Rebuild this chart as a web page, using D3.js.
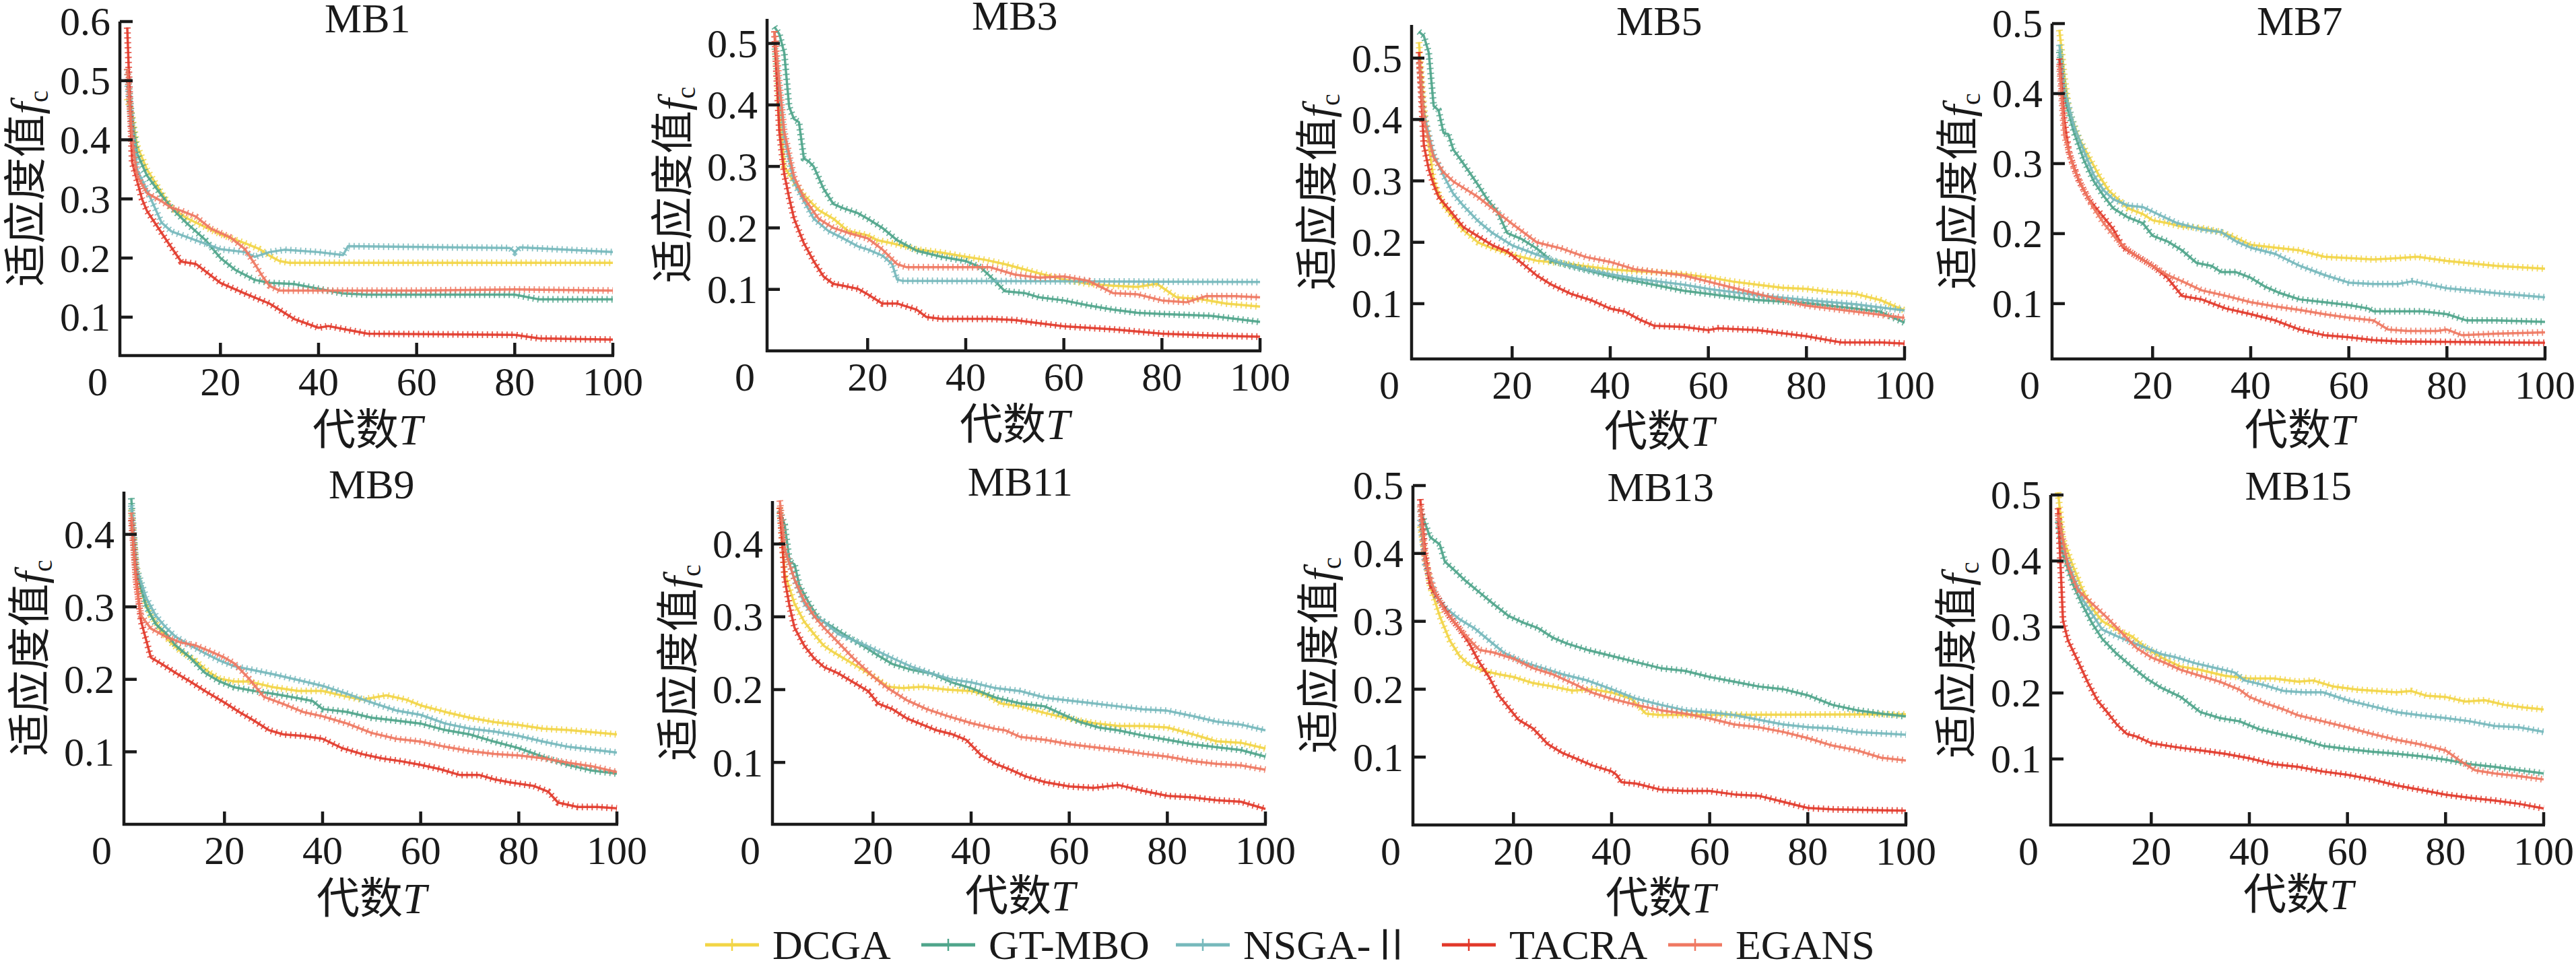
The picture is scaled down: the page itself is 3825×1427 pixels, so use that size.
<!DOCTYPE html>
<html lang="zh">
<head>
<meta charset="UTF-8">
<script src="https://cdn.jsdelivr.net/npm/d3@7"></script>
<style>
    body { margin: 0; background: #fff; }
    text { font-family: "Liberation Serif", "Times New Roman", serif; fill: #1a1a1a; }
    .cjk { font-family: "Noto Sans CJK SC", sans-serif; }
</style>
</head>
<body>
<svg id="chart" width="3825" height="1427"></svg>
<script>
    // methods and their colours
    var methods = ["DCGA", "GT-MBO", "NSGA-Ⅱ", "TACRA", "EGANS"];
    var colors = ["#f2d546", "#4fa58b", "#76b9bc", "#e2382a", "#ef7862"];

    var panelNames = ["MB1", "MB3", "MB5", "MB7", "MB9", "MB11", "MB13", "MB15"];
    var xTicks = [0, 20, 40, 60, 80, 100];
    var yTicks = [
        [0.1, 0.2, 0.3, 0.4, 0.5, 0.6], [0.1, 0.2, 0.3, 0.4, 0.5], [0.1, 0.2, 0.3, 0.4, 0.5], [0.1, 0.2, 0.3, 0.4, 0.5],
        [0.1, 0.2, 0.3, 0.4], [0.1, 0.2, 0.3, 0.4], [0.1, 0.2, 0.3, 0.4, 0.5], [0.1, 0.2, 0.3, 0.4, 0.5]
    ];
    var yDomains = [[0.035, 0.6], [0, 0.54], [0.01, 0.554], [0.021, 0.5], [0, 0.459], [0.015, 0.459], [0, 0.5], [0, 0.5]];

    // [generation T, fitness fc]
    var mb1_dcga = [[1,.47],[2,.44],[3,.39],[5,.35],[8,.31],[10,.285],[13,.268],[15,.26],[20,.24],[25,.225],[28,.215],[30,.204],[32,.195],[34,.192],[60,.192],[100,.192]];
    var mb1_gtmbo = [[1,.52],[2,.43],[3,.377],[5,.34],[8,.306],[10,.285],[13,.26],[17,.23],[20,.2],[23,.18],[27,.163],[30,.158],[35,.156],[40,.148],[45,.14],[50,.138],[80,.138],[85,.13],[100,.13]];
    var mb1_nsga = [[1,.5],[2,.42],[3,.35],[5,.315],[8,.26],[10,.245],[15,.23],[20,.215],[25,.21],[27,.202],[30,.21],[33,.214],[40,.21],[45,.205],[46,.22],[79,.217],[80,.21],[81,.218],[100,.21]];
    var mb1_tacra = [[1,.59],[2,.362],[4,.3],[5,.28],[9,.23],[12,.194],[15,.19],[20,.158],[25,.14],[30,.123],[35,.097],[40,.082],[42,.085],[45,.08],[50,.072],[80,.07],[85,.064],[100,.062]];
    var mb1_egans = [[1,.52],[2,.4],[3,.34],[5,.31],[8,.296],[10,.285],[12,.28],[15,.27],[18,.25],[22,.235],[25,.215],[27,.19],[28.5,.17],[30,.153],[32,.145],[60,.145],[80,.147],[100,.145]];

    var mb3_dcga = [[1,.5],[3,.3],[5,.274],[7,.254],[10,.229],[13,.215],[16,.195],[20,.188],[22,.18],[25,.175],[30,.165],[35,.16],[40,.153],[44,.148],[48,.141],[55,.126],[60,.116],[65,.109],[70,.106],[75,.104],[79,.109],[83,.087],[88,.084],[93,.077],[100,.072]];
    var mb3_gtmbo = [[1,.527],[2,.515],[3,.485],[4,.397],[5,.377],[6,.372],[7,.313],[8,.308],[9,.3],[11,.264],[13,.239],[15,.232],[18,.224],[20,.215],[23,.2],[26,.18],[30,.163],[35,.153],[40,.146],[43,.136],[45,.121],[48,.097],[52,.094],[55,.087],[60,.082],[65,.074],[70,.067],[75,.062],[80,.06],[90,.057],[100,.047]];
    var mb3_nsga = [[1,.5],[3,.347],[5,.274],[7,.244],[9,.215],[12,.195],[15,.183],[18,.17],[20,.165],[23,.155],[25,.141],[26,.116],[27,.114],[100,.112]];
    var mb3_tacra = [[1,.52],[2,.357],[3,.288],[4,.249],[5,.215],[7,.175],[9,.146],[11,.121],[13,.109],[15,.106],[18,.101],[20,.092],[23,.077],[26,.077],[30,.067],[32,.055],[35,.052],[45,.052],[50,.05],[55,.045],[60,.04],[70,.035],[80,.028],[90,.025],[100,.023]];
    var mb3_egans = [[1,.52],[3,.357],[5,.283],[7,.249],[10,.215],[13,.2],[16,.192],[20,.183],[23,.165],[26,.141],[28,.136],[45,.136],[50,.124],[55,.119],[60,.121],[65,.114],[70,.094],[75,.092],[80,.082],[85,.079],[89,.089],[95,.089],[100,.087]];

    var mb5_dcga = [[1,.526],[2,.42],[4,.3],[6,.26],[8,.24],[10,.22],[13,.2],[16,.19],[20,.18],[25,.17],[30,.166],[35,.161],[40,.156],[45,.153],[50,.151],[55,.148],[60,.143],[65,.136],[70,.131],[75,.126],[80,.124],[85,.119],[90,.116],[95,.106],[100,.089]];
    var mb5_gtmbo = [[1,.543],[2,.536],[3,.509],[4,.422],[5,.415],[6,.378],[7,.376],[8,.351],[10,.329],[13,.294],[15,.269],[17,.25],[19,.215],[22,.205],[25,.19],[28,.17],[32,.161],[37,.151],[42,.141],[47,.134],[55,.121],[62,.114],[70,.106],[80,.101],[90,.092],[95,.087],[100,.069]];
    var mb5_nsga = [[1,.5],[2,.41],[4,.343],[6,.309],[8,.279],[10,.26],[13,.235],[16,.215],[20,.195],[25,.18],[30,.166],[35,.156],[40,.148],[45,.141],[50,.136],[55,.131],[60,.124],[65,.119],[70,.114],[80,.106],[90,.099],[100,.089]];
    var mb5_tacra = [[1,.51],[2,.358],[3,.319],[4,.294],[5,.274],[7,.255],[10,.225],[13,.21],[16,.195],[19,.185],[22,.166],[25,.146],[28,.131],[32,.116],[36,.106],[40,.092],[43,.087],[46,.074],[49,.064],[55,.062],[60,.057],[62,.06],[70,.057],[80,.047],[87,.037],[95,.037],[100,.035]];
    var mb5_egans = [[1,.5],[2,.4],[4,.338],[6,.314],[8,.299],[10,.289],[13,.274],[16,.255],[20,.23],[25,.2],[30,.19],[35,.176],[40,.168],[45,.156],[50,.151],[55,.146],[60,.136],[65,.126],[70,.116],[75,.106],[80,.097],[85,.092],[90,.087],[95,.082],[100,.077]];

    var mb7_dcga = [[1,.491],[2,.426],[3,.375],[5,.336],[7,.31],[9,.284],[11,.262],[13,.249],[15,.236],[18,.228],[20,.219],[23,.215],[26,.21],[30,.208],[33,.204],[36,.197],[40,.184],[45,.18],[50,.176],[55,.167],[60,.165],[65,.163],[70,.165],[74,.167],[80,.161],[90,.154],[100,.15]];
    var mb7_gtmbo = [[1,.46],[2,.396],[4,.344],[6,.305],[8,.275],[10,.254],[12,.236],[15,.223],[18,.215],[20,.197],[23,.189],[26,.176],[29,.158],[32,.154],[34,.145],[37,.145],[40,.137],[43,.124],[46,.115],[50,.106],[55,.102],[60,.098],[64,.093],[65,.089],[75,.089],[80,.085],[84,.076],[90,.076],[100,.074]];
    var mb7_nsga = [[1,.47],[2,.405],[4,.353],[6,.318],[8,.284],[10,.262],[12,.249],[15,.24],[18,.238],[21,.228],[25,.215],[30,.206],[34,.202],[37,.189],[40,.18],[45,.171],[50,.154],[55,.141],[60,.13],[65,.128],[70,.128],[73,.132],[80,.122],[90,.115],[100,.109]];
    var mb7_tacra = [[1,.45],[2,.362],[3,.314],[5,.275],[7,.249],[9,.232],[11,.215],[12,.206],[14,.18],[17,.167],[20,.154],[23,.137],[26,.111],[30,.106],[35,.093],[40,.085],[45,.076],[50,.063],[55,.055],[60,.052],[65,.048],[70,.046],[100,.044]];
    var mb7_egans = [[1,.44],[2,.34],[4,.292],[6,.262],[8,.236],[10,.215],[13,.189],[16,.171],[20,.154],[23,.141],[26,.132],[30,.119],[35,.111],[40,.102],[45,.096],[50,.091],[55,.085],[60,.08],[65,.076],[68,.063],[72,.061],[78,.061],[80,.063],[83,.055],[90,.057],[100,.059]];

    var mb9_dcga = [[1,.434],[2,.359],[3,.322],[5,.288],[7,.268],[9,.251],[11,.239],[14,.226],[17,.209],[19,.201],[22,.197],[25,.197],[30,.189],[35,.184],[40,.184],[45,.176],[48,.172],[53,.178],[57,.172],[60,.164],[65,.155],[70,.147],[75,.141],[80,.137],[85,.132],[90,.13],[100,.124]];
    var mb9_gtmbo = [[1,.45],[2,.351],[4,.301],[6,.276],[8,.264],[10,.247],[13,.23],[16,.209],[19,.197],[22,.189],[26,.184],[30,.18],[35,.174],[38,.17],[40,.159],[45,.155],[50,.147],[55,.143],[60,.139],[65,.13],[70,.124],[75,.114],[80,.105],[85,.093],[90,.082],[95,.074],[100,.07]];
    var mb9_nsga = [[1,.44],[2,.355],[4,.313],[6,.288],[8,.272],[10,.259],[13,.247],[16,.236],[19,.226],[22,.218],[25,.214],[30,.207],[35,.199],[40,.191],[45,.18],[50,.168],[55,.157],[60,.151],[65,.139],[70,.132],[75,.128],[80,.122],[85,.114],[90,.107],[100,.099]];
    var mb9_tacra = [[1,.42],[2,.338],[3,.28],[5,.23],[7,.222],[10,.209],[13,.197],[16,.184],[20,.168],[23,.155],[26,.143],[29,.13],[32,.124],[36,.122],[40,.118],[44,.105],[48,.097],[52,.091],[56,.087],[60,.082],[64,.076],[68,.068],[72,.068],[75,.062],[78,.058],[83,.053],[86,.045],[88,.03],[92,.024],[96,.024],[100,.022]];
    var mb9_egans = [[1,.43],[2,.33],[3,.288],[5,.27],[8,.259],[11,.251],[14,.247],[17,.239],[20,.23],[22,.222],[25,.201],[28,.176],[32,.166],[36,.155],[40,.149],[45,.139],[50,.126],[55,.118],[60,.114],[65,.107],[70,.101],[75,.097],[80,.095],[85,.091],[90,.085],[95,.08],[100,.072]];

    var mb11_dcga = [[1,.45],[2,.359],[4,.318],[6,.293],[8,.276],[10,.26],[12,.251],[15,.239],[18,.227],[21,.214],[23,.204],[26,.202],[30,.204],[35,.2],[40,.198],[43,.193],[46,.181],[50,.177],[55,.168],[60,.16],[65,.154],[70,.15],[75,.15],[80,.148],[85,.139],[90,.129],[95,.127],[100,.119]];
    var mb11_gtmbo = [[1,.446],[2,.426],[3,.376],[4,.372],[5,.343],[7,.318],[9,.297],[12,.285],[15,.272],[18,.26],[21,.247],[24,.235],[28,.227],[32,.222],[36,.21],[40,.202],[45,.189],[50,.181],[55,.177],[58,.168],[62,.156],[66,.148],[70,.144],[75,.137],[80,.131],[85,.125],[90,.121],[95,.117],[100,.108]];
    var mb11_nsga = [[1,.44],[2,.393],[4,.351],[6,.318],[8,.301],[10,.293],[13,.276],[16,.268],[20,.256],[24,.243],[28,.231],[32,.222],[36,.214],[40,.21],[45,.202],[50,.198],[55,.189],[60,.185],[65,.181],[70,.177],[75,.173],[80,.171],[85,.164],[90,.156],[95,.152],[100,.144]];
    var mb11_tacra = [[1,.45],[2,.351],[3,.314],[4,.285],[6,.26],[8,.243],[10,.231],[13,.222],[16,.21],[19,.198],[21,.181],[24,.173],[27,.16],[30,.152],[33,.144],[36,.139],[39,.131],[42,.11],[45,.098],[48,.09],[51,.081],[55,.073],[60,.067],[65,.065],[70,.069],[75,.061],[80,.054],[85,.052],[90,.048],[95,.046],[100,.036]];
    var mb11_egans = [[1,.46],[2,.393],[4,.351],[6,.322],[8,.301],[10,.285],[13,.264],[16,.243],[20,.218],[23,.202],[27,.185],[31,.173],[35,.164],[40,.154],[45,.146],[47,.144],[50,.135],[55,.131],[60,.125],[65,.121],[70,.117],[75,.112],[80,.108],[85,.102],[90,.098],[95,.096],[100,.09]];

    var mb13_dcga = [[1,.44],[3,.352],[5,.307],[7,.272],[9,.249],[11,.236],[14,.227],[17,.222],[20,.218],[24,.209],[28,.204],[32,.198],[36,.2],[40,.195],[44,.186],[47,.164],[50,.162],[100,.163]];
    var mb13_gtmbo = [[1,.464],[3,.424],[5,.413],[6,.388],[8,.375],[10,.361],[13,.343],[16,.325],[19,.308],[22,.298],[25,.29],[28,.276],[31,.267],[35,.258],[40,.249],[45,.24],[50,.231],[55,.227],[60,.218],[65,.211],[70,.204],[75,.2],[80,.191],[85,.177],[90,.169],[95,.164],[100,.16]];
    var mb13_nsga = [[1,.45],[2,.384],[4,.339],[6,.321],[9,.303],[12,.29],[15,.272],[18,.254],[22,.24],[26,.231],[30,.222],[35,.213],[40,.2],[45,.186],[50,.177],[55,.169],[60,.166],[65,.162],[70,.155],[75,.148],[80,.144],[85,.142],[90,.137],[95,.135],[100,.133]];
    var mb13_tacra = [[1,.48],[2,.401],[3,.352],[5,.33],[7,.307],[9,.289],[11,.267],[13,.24],[15,.218],[17,.191],[19,.173],[21,.155],[24,.142],[27,.119],[30,.106],[33,.097],[36,.088],[40,.079],[41,.074],[42,.063],[45,.061],[50,.052],[55,.05],[60,.05],[65,.045],[70,.043],[75,.034],[80,.025],[85,.023],[100,.021]];
    var mb13_egans = [[1,.47],[2,.388],[4,.343],[6,.316],[8,.298],[10,.281],[13,.258],[16,.254],[20,.245],[24,.231],[28,.222],[32,.209],[36,.195],[40,.186],[45,.177],[50,.169],[55,.164],[60,.157],[65,.148],[70,.144],[75,.137],[80,.128],[85,.117],[90,.11],[95,.099],[100,.095]];

    var mb15_dcga = [[1,.504],[2,.434],[4,.393],[6,.356],[8,.328],[10,.309],[13,.296],[16,.286],[19,.268],[22,.254],[26,.24],[30,.235],[35,.226],[40,.222],[45,.222],[50,.217],[53,.219],[57,.21],[62,.205],[66,.203],[70,.201],[73,.203],[76,.196],[80,.194],[84,.187],[88,.189],[92,.182],[96,.178],[100,.175]];
    var mb15_gtmbo = [[1,.46],[2,.411],[4,.365],[6,.333],[8,.305],[10,.282],[13,.259],[16,.24],[19,.222],[22,.208],[26,.194],[30,.171],[34,.162],[38,.157],[42,.145],[46,.138],[50,.131],[55,.12],[60,.115],[65,.111],[70,.108],[75,.104],[80,.099],[85,.092],[90,.088],[95,.083],[100,.078]];
    var mb15_nsga = [[1,.47],[2,.42],[4,.379],[6,.342],[8,.319],[10,.296],[13,.286],[16,.277],[19,.268],[22,.259],[25,.254],[29,.245],[33,.238],[37,.231],[39,.219],[43,.212],[47,.203],[51,.201],[55,.201],[60,.189],[65,.18],[70,.171],[75,.166],[80,.162],[85,.157],[90,.15],[95,.148],[100,.141]];
    var mb15_tacra = [[1,.48],[2,.31],[3,.28],[5,.249],[7,.217],[9,.189],[11,.171],[13,.152],[15,.138],[17,.134],[20,.124],[25,.118],[30,.113],[35,.108],[40,.101],[45,.092],[50,.088],[55,.081],[60,.076],[65,.069],[70,.06],[75,.053],[80,.046],[85,.041],[90,.037],[95,.032],[100,.025]];
    var mb15_egans = [[1,.47],[3,.393],[5,.356],[7,.342],[9,.328],[11,.314],[14,.291],[17,.268],[20,.254],[23,.245],[26,.235],[30,.226],[34,.217],[38,.205],[40,.194],[43,.185],[47,.175],[50,.166],[55,.157],[60,.148],[65,.138],[70,.129],[75,.122],[80,.113],[83,.097],[86,.083],[90,.078],[95,.074],[100,.069]];

    var panelSeries = [
        [mb1_dcga, mb1_gtmbo, mb1_nsga, mb1_tacra, mb1_egans],
        [mb3_dcga, mb3_gtmbo, mb3_nsga, mb3_tacra, mb3_egans],
        [mb5_dcga, mb5_gtmbo, mb5_nsga, mb5_tacra, mb5_egans],
        [mb7_dcga, mb7_gtmbo, mb7_nsga, mb7_tacra, mb7_egans],
        [mb9_dcga, mb9_gtmbo, mb9_nsga, mb9_tacra, mb9_egans],
        [mb11_dcga, mb11_gtmbo, mb11_nsga, mb11_tacra, mb11_egans],
        [mb13_dcga, mb13_gtmbo, mb13_nsga, mb13_tacra, mb13_egans],
        [mb15_dcga, mb15_gtmbo, mb15_nsga, mb15_tacra, mb15_egans]
    ];

    // where each panel sits: axis x, axis top, axis bottom, title baseline, x-label baseline
    var layout = [
        { left: 178, top: 32, bottom: 528, title: 48, xlab: 660 },
        { left: 1139, top: 28, bottom: 521, title: 44, xlab: 652 },
        { left: 2096, top: 37, bottom: 533, title: 52, xlab: 662 },
        { left: 3047, top: 35, bottom: 533, title: 52, xlab: 660 },
        { left: 184, top: 730, bottom: 1224, title: 740, xlab: 1356 },
        { left: 1147, top: 744, bottom: 1224, title: 736, xlab: 1352 },
        { left: 2098, top: 721, bottom: 1225, title: 744, xlab: 1355 },
        { left: 3045, top: 735, bottom: 1225, title: 742, xlab: 1350 }
    ];
    var plotW = 732;
    var tickFs = 60;

    var svg = d3.select("#chart");

    panelNames.forEach(function (name, p) {
        var L = layout[p];
        var x = d3.scaleLinear().domain([-0.5, 100]).range([L.left, L.left + plotW]);
        var y = d3.scaleLinear().domain(yDomains[p]).range([L.bottom, L.top]);
        var g = svg.append("g").attr("class", "panel");

        // lines
        var line = d3.line().x(function (d) { return x(d[0]); }).y(function (d) { return y(d[1]); });
        panelSeries[p].forEach(function (s, k) {
            g.append("path").attr("d", line(s))
                .attr("fill", "none").attr("stroke", colors[k])
                .attr("stroke-width", 3.5).attr("stroke-linejoin", "round")
                .attr("opacity", 0.92);
            // little "+" marks along the curve
            g.append("path").attr("d", line(s))
                .attr("fill", "none").attr("stroke", colors[k])
                .attr("stroke-width", 10).attr("stroke-dasharray", "1.8 5.5")
                .attr("opacity", 0.85);
        });

        // axes
        g.append("line").attr("x1", L.left).attr("x2", L.left)
            .attr("y1", L.top).attr("y2", L.bottom + 2)
            .attr("stroke", "#1a1a1a").attr("stroke-width", 4.5);
        g.append("line").attr("x1", L.left - 2).attr("x2", x(100) + 2)
            .attr("y1", L.bottom).attr("y2", L.bottom)
            .attr("stroke", "#1a1a1a").attr("stroke-width", 4.5);

        g.selectAll(".ytick").data(yTicks[p]).enter().append("line")
            .attr("x1", L.left).attr("x2", L.left + 19)
            .attr("y1", function (d) { return y(d); }).attr("y2", function (d) { return y(d); })
            .attr("stroke", "#1a1a1a").attr("stroke-width", 4.5);
        g.selectAll(".ylab").data(yTicks[p]).enter().append("text")
            .attr("x", L.left - 14).attr("y", function (d) { return y(d); })
            .attr("dy", "0.34em").attr("text-anchor", "end")
            .style("font-size", tickFs + "px")
            .text(d3.format(".1f"));

        g.selectAll(".xtick").data(xTicks.slice(1)).enter().append("line")
            .attr("x1", function (d) { return x(d); }).attr("x2", function (d) { return x(d); })
            .attr("y1", L.bottom).attr("y2", L.bottom - 19)
            .attr("stroke", "#1a1a1a").attr("stroke-width", 4.5);
        g.selectAll(".xlab").data(xTicks).enter().append("text")
            .attr("x", function (d) { return d === 0 ? L.left - 33 : x(d); })
            .attr("y", L.bottom + 59).attr("text-anchor", "middle")
            .style("font-size", tickFs + "px")
            .text(function (d) { return d; });

        // title
        g.append("text").attr("x", x(50)).attr("y", L.title)
            .attr("text-anchor", "middle").style("font-size", "62px").text(name);

        // x label
        var xl = g.append("text").attr("x", x(50)).attr("y", L.xlab)
            .attr("text-anchor", "middle").style("font-size", "64px");
        xl.append("tspan").attr("class", "cjk").text("代数");
        xl.append("tspan").style("font-style", "italic").text("T");

        // y label
        var yl = g.append("text")
            .attr("transform", "translate(" + (L.left - 118) + "," + ((L.top + L.bottom) / 2) + ") rotate(-90)")
            .attr("text-anchor", "middle").style("font-size", "64px");
        yl.append("tspan").attr("class", "cjk").text("适应度值");
        yl.append("tspan").style("font-style", "italic").text("f");
        yl.append("tspan").attr("dy", 11).style("font-size", "40px").text("c");
    });

    // legend
    var legendX = [1047, 1368, 1746, 2141, 2477];
    var legendY = 1403;
    var lg = svg.append("g").attr("class", "legend");
    methods.forEach(function (m, k) {
        var x0 = legendX[k];
        lg.append("line").attr("x1", x0).attr("x2", x0 + 80)
            .attr("y1", legendY).attr("y2", legendY)
            .attr("stroke", colors[k]).attr("stroke-width", 5);
        lg.append("line").attr("x1", x0 + 40).attr("x2", x0 + 40)
            .attr("y1", legendY - 9).attr("y2", legendY + 9)
            .attr("stroke", colors[k]).attr("stroke-width", 2.5);
        lg.append("text").attr("x", x0 + 100).attr("y", legendY + 21)
            .style("font-size", "62px").text(m);
    });
</script>
</body>
</html>
